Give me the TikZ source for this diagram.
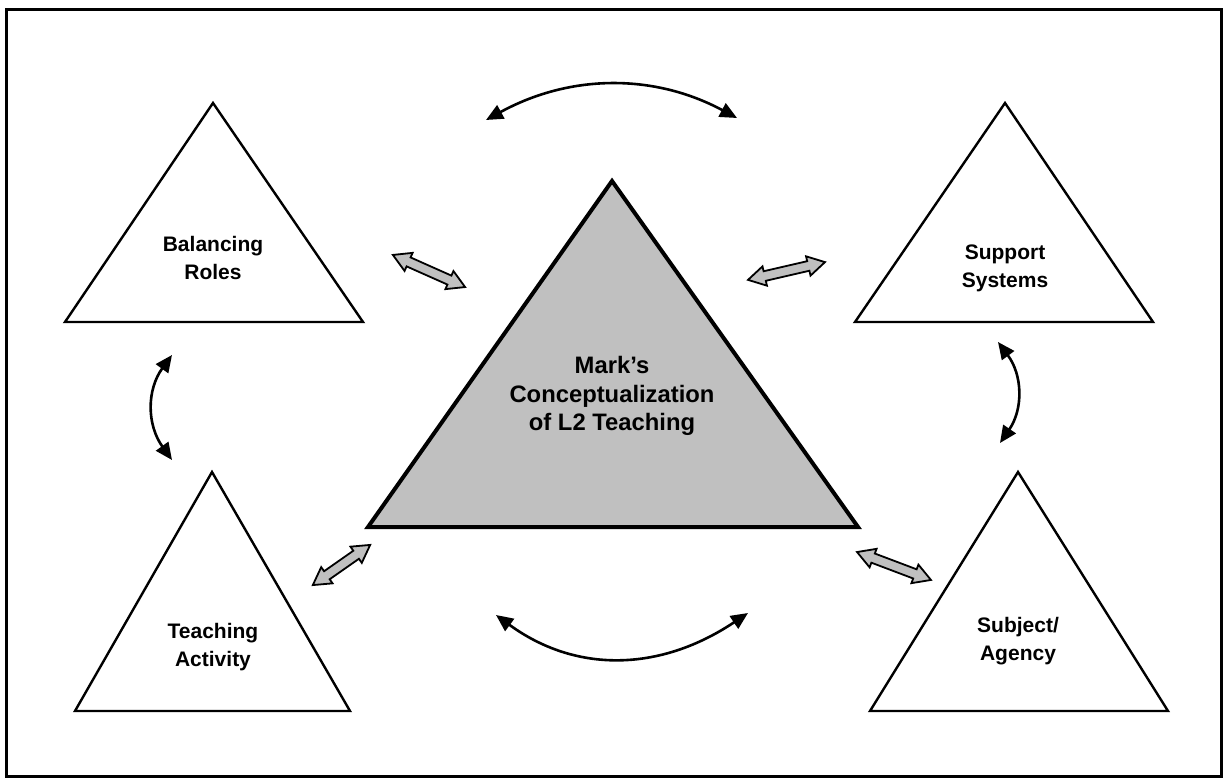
\documentclass[tikz,border=0pt]{standalone}
\usepackage{fontspec}
\setmainfont{Liberation Sans}
\usetikzlibrary{arrows.meta,shapes.arrows}
\definecolor{panelgray}{RGB}{192,192,192}
\begin{document}
\begin{tikzpicture}[x=1pt,y=-1pt,
  tri/.style={draw=black,line width=2.4pt,fill=white,line join=miter},
  coretri/.style={draw=black,line width=4pt,fill=panelgray,line join=miter},
  lbl/.style={align=center,font=\bfseries\fontsize{21}{28}\selectfont,inner sep=0pt},
  corelbl/.style={align=center,font=\bfseries\fontsize{23.8}{28.5}\selectfont,inner sep=0pt},
  blockarrow/.style={shape=double arrow,draw=black,line width=1.8pt,fill=panelgray,
    inner xsep=0pt,inner ysep=4pt,double arrow head extend=5pt,
    double arrow tip angle=60,line join=miter},
  curvelink/.style={line width=2.6pt,{Triangle[length=17pt,width=15pt]}-{Triangle[length=17pt,width=15pt]}}
]
\useasboundingbox (0,0) rectangle (1225,783);
% frame
\draw[line width=3pt] (6.5,9.5) rectangle (1221.5,776);

% triangle corners
\coordinate (brA) at (213,103);  \coordinate (brL) at (65,322);  \coordinate (brR) at (363,322);
\coordinate (ssA) at (1005,103); \coordinate (ssL) at (855,322); \coordinate (ssR) at (1153,322);
\coordinate (taA) at (212,472);  \coordinate (taL) at (75,711);  \coordinate (taR) at (350,711);
\coordinate (saA) at (1018,472); \coordinate (saL) at (870,711); \coordinate (saR) at (1168,711);
\coordinate (cA) at (612,181);   \coordinate (cL) at (368,527);  \coordinate (cR) at (858,527);

\draw[tri] (brA) -- (brR) -- (brL) -- cycle;
\draw[tri] (ssA) -- (ssR) -- (ssL) -- cycle;
\draw[tri] (taA) -- (taR) -- (taL) -- cycle;
\draw[tri] (saA) -- (saR) -- (saL) -- cycle;
\draw[coretri] (cA) -- (cR) -- (cL) -- cycle;

% labels
\node[lbl] (balancing) at (213,258) {Balancing\\Roles};
\node[lbl] (support) at (1005,268) {Support\\Systems};
\node[lbl] (teaching) at (213,647) {Teaching\\Activity};
\node[lbl] (subject) at (1018,641) {Subject/\\Agency};
\node[corelbl] (core) at (612,396) {Mark’s\\Conceptualization\\of L2 Teaching};

% grey two-way block arrows between the core and the outer triangles
\node[blockarrow,minimum height=79pt,rotate=-24] (ba1) at (429,271) {};
\node[blockarrow,minimum height=79pt,rotate=13] (ba2) at (786.5,271) {};
\node[blockarrow,minimum height=70pt,rotate=35] (ba3) at (341.5,565) {};
\node[blockarrow,minimum height=79pt,rotate=-20.7] (ba4) at (894,566) {};

% curved two-way links between the outer triangles
\coordinate (topL) at (486,120);  \coordinate (topR) at (737,118);
\coordinate (botL) at (496,615);  \coordinate (botR) at (748,613);
\coordinate (lefT) at (172,355);  \coordinate (lefB) at (172,460);
\coordinate (rigT) at (998,342);  \coordinate (rigB) at (1000,443);

\draw[curvelink] (topL) .. controls (570,74) and (653.7,73.3) .. (topR);
\draw[curvelink] (botL) .. controls (575.3,673) and (659.3,672.3) .. (botR);
\draw[curvelink] (lefT) .. controls (146.7,389.7) and (146.7,424.7) .. (lefB);
\draw[curvelink] (rigT) .. controls (1022.7,375.3) and (1023.3,409) .. (rigB);
\end{tikzpicture}
\end{document}
